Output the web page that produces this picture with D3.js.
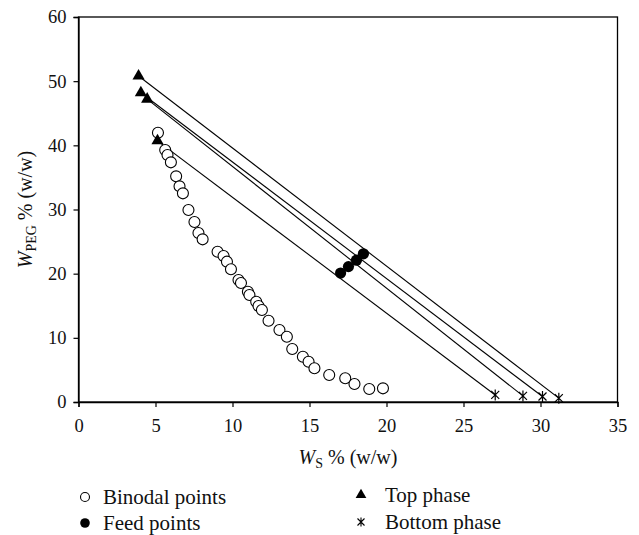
<!DOCTYPE html>
<html>
<head>
<meta charset="utf-8">
<script src="https://cdn.jsdelivr.net/npm/d3@7"></script>
<style>
  body { margin: 0; background: #fff; }
  svg { display: block; font-family: "Liberation Serif", "DejaVu Serif", serif; }
</style>
</head>
<body>
<svg id="chart" width="639" height="535"></svg>
<script>
// ---- Data ----
const binodalX = [5.16, 5.63, 5.78, 6.00, 6.34, 6.56, 6.78, 7.14, 7.53, 7.79, 8.06, 9.03, 9.42, 9.64, 9.90,
  10.39, 10.55, 11.00, 11.10, 11.54, 11.69, 11.91, 12.34, 13.05, 13.53, 13.88, 14.57, 14.94, 15.32, 16.28,
  17.32, 17.92, 18.88, 19.77];
const binodalY = [41.97, 39.27, 38.49, 37.35, 35.17, 33.61, 32.52, 29.92, 28.05, 26.34, 25.35, 23.42, 22.75, 21.87, 20.68,
  19.01, 18.55, 17.19, 16.67, 15.63, 14.96, 14.34, 12.67, 11.22, 10.18, 8.26, 7.06, 6.28, 5.25, 4.21,
  3.69, 2.80, 2.03, 2.13];
const feedX = [17.02, 17.53, 18.05, 18.5];
const feedY = [20.1, 21.1, 22.1, 23.1];
const topX = [5.13, 4.46, 4.05, 3.90];
const topY = [40.7, 47.2, 48.2, 50.8];
const bottomX = [27.06, 28.86, 30.13, 31.19];
const bottomY = [1.1, 0.95, 0.85, 0.6];
const xTicks = [0, 5, 10, 15, 20, 25, 30, 35];
const yTicks = [0, 10, 20, 30, 40, 50, 60];
const legendLabels = ["Binodal points", "Feed points", "Top phase", "Bottom phase"];

// ---- Layout ----
const svg = d3.select("#chart");
const mLeft = 78.5, mRight = 617.5, mTop = 17, mBottom = 402;
const x = d3.scaleLinear().domain([0, 35]).range([mLeft, mRight]);
const y = d3.scaleLinear().domain([0, 60]).range([mBottom, mTop]);

// frame
svg.append("rect").attr("x", mLeft).attr("y", mTop).attr("width", mRight - mLeft).attr("height", mBottom - mTop)
  .attr("fill", "none").attr("stroke", "#000").attr("stroke-width", 1.3);

const xAxis = svg.append("g").attr("transform", `translate(0,${mBottom})`)
  .call(d3.axisBottom(x).tickValues(xTicks).tickSize(5).tickPadding(11.5).tickFormat(d3.format("d")));
const yAxis = svg.append("g").attr("transform", `translate(${mLeft},0)`)
  .call(d3.axisLeft(y).tickValues(yTicks).tickSize(5).tickPadding(7).tickFormat(d3.format("d")));
[xAxis, yAxis].forEach(a => {
  a.select(".domain").attr("stroke", "#000").attr("stroke-width", 1.3);
  a.selectAll(".tick line").attr("stroke", "#000").attr("stroke-width", 1.2);
  a.selectAll(".tick text").attr("fill", "#111").style("font-size", "18.5px")
    .style("font-family", "'Liberation Serif', serif");
});

// axis titles
const xt = svg.append("text").attr("x", (mLeft + mRight) / 2).attr("y", 464).attr("text-anchor", "middle")
  .style("font-size", "20px").attr("fill", "#111");
xt.append("tspan").text("W").style("font-style", "italic");
xt.append("tspan").text("S").style("font-size", "14px").attr("dy", 4);
xt.append("tspan").text(" % (w/w)").attr("dy", -4);

const yt = svg.append("text").attr("transform", `translate(32,${(mTop + mBottom) / 2}) rotate(-90)`)
  .attr("text-anchor", "middle").style("font-size", "20px").attr("fill", "#111");
yt.append("tspan").text("W").style("font-style", "italic");
yt.append("tspan").text("PEG").style("font-size", "14px").attr("dy", 4);
yt.append("tspan").text(" % (w/w)").attr("dy", -4);

// tie lines (top phase -> bottom phase)
const ties = topX.map((d, i) => ({x1: d, y1: topY[i], x2: bottomX[i], y2: bottomY[i]}));
svg.append("g").selectAll("line").data(ties).join("line")
  .attr("x1", d => x(d.x1)).attr("y1", d => y(d.y1))
  .attr("x2", d => x(d.x2)).attr("y2", d => y(d.y2))
  .attr("stroke", "#000").attr("stroke-width", 1.1);

// binodal
const binodal = binodalX.map((d, i) => [d, binodalY[i]]);
svg.append("g").selectAll("circle").data(binodal).join("circle")
  .attr("cx", d => x(d[0])).attr("cy", d => y(d[1])).attr("r", 5.5)
  .attr("fill", "#fff").attr("stroke", "#000").attr("stroke-width", 1.1);

// feed
const feed = feedX.map((d, i) => [d, feedY[i]]);
svg.append("g").selectAll("circle").data(feed).join("circle")
  .attr("cx", d => x(d[0])).attr("cy", d => y(d[1])).attr("r", 5.6).attr("fill", "#000");

// top phase triangles
const tri = d3.symbol().type(d3.symbolTriangle).size(64);
const topPts = topX.map((d, i) => [d, topY[i]]);
svg.append("g").selectAll("path").data(topPts).join("path")
  .attr("transform", d => `translate(${x(d[0])},${y(d[1])})`).attr("d", tri()).attr("fill", "#000");

// bottom phase asterisks
const star = "M-4,-4L4,4M-4,4L4,-4M0,-5.5L0,5.5";
const botPts = bottomX.map((d, i) => [d, bottomY[i]]);
svg.append("g").selectAll("path").data(botPts).join("path")
  .attr("transform", d => `translate(${x(d[0])},${y(d[1])})`).attr("d", star)
  .attr("fill", "none").attr("stroke", "#000").attr("stroke-width", 1.2);

// legend
const lg = svg.append("g");
const items = [
  {mx: 85, my: 497, tx: 103, kind: "open"},
  {mx: 85, my: 523, tx: 103, kind: "filled"},
  {mx: 361, my: 495, tx: 385, kind: "tri"},
  {mx: 361, my: 522, tx: 385, kind: "star"}
];
items.forEach((it, i) => {
  if (it.kind === "open") lg.append("circle").attr("cx", it.mx).attr("cy", it.my).attr("r", 4.5)
    .attr("fill", "#fff").attr("stroke", "#000").attr("stroke-width", 1.1);
  if (it.kind === "filled") lg.append("circle").attr("cx", it.mx).attr("cy", it.my).attr("r", 4.8).attr("fill", "#000");
  if (it.kind === "tri") lg.append("path").attr("transform", `translate(${it.mx},${it.my})`)
    .attr("d", d3.symbol().type(d3.symbolTriangle).size(50)()).attr("fill", "#000");
  if (it.kind === "star") lg.append("path").attr("transform", `translate(${it.mx},${it.my})`)
    .attr("d", "M-3.5,-3.5L3.5,3.5M-3.5,3.5L3.5,-3.5M0,-4.5L0,4.5").attr("stroke", "#000").attr("stroke-width", 1.1);
  lg.append("text").attr("x", it.tx).attr("y", it.my).attr("dy", "0.35em")
    .style("font-size", "21px").attr("fill", "#111").text(legendLabels[i]);
});
</script>
</body>
</html>
